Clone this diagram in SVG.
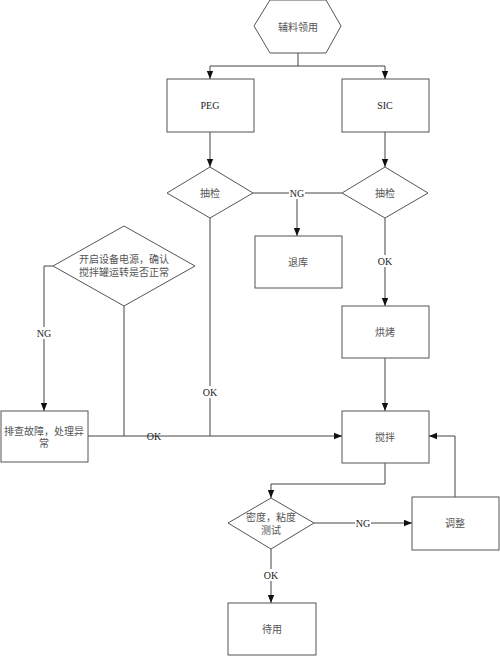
<svg xmlns="http://www.w3.org/2000/svg" width="500" height="656" viewBox="0 0 500 656">
<style>
.s{fill:#fff;stroke:#555;stroke-width:1}
.c{fill:none;stroke:#444;stroke-width:1}
.t{font-family:"Liberation Serif","Noto Sans CJK SC",serif;font-size:10px;fill:#555;text-anchor:middle;dominant-baseline:central}
.l{font-family:"Liberation Serif","Noto Sans CJK SC",serif;font-size:10px;fill:#222;text-anchor:middle;dominant-baseline:central}
.lb{fill:#fff}
</style>
<defs>
<marker id="a" viewBox="0 0 10 10" refX="10" refY="5" markerWidth="8" markerHeight="8" markerUnits="userSpaceOnUse" orient="auto">
<path d="M0,1 L10,5 L0,9 z" fill="#111"/>
</marker>
</defs>
<rect width="500" height="656" fill="#fff"/>
<g id="connectors">
<path class="c" d="M298,53 V66 M210,66 H385"/>
<path class="c" d="M210,66 V79" marker-end="url(#a)"/>
<path class="c" d="M385,66 V79" marker-end="url(#a)"/>
<path class="c" d="M210,132 V167" marker-end="url(#a)"/>
<path class="c" d="M385,132 V167" marker-end="url(#a)"/>
<path class="c" d="M253,193 H342"/>
<path class="c" d="M297,193 V236" marker-end="url(#a)"/>
<path class="c" d="M385,218 V306" marker-end="url(#a)"/>
<path class="c" d="M385,358 V411" marker-end="url(#a)"/>
<path class="c" d="M210,218 V436"/>
<path class="c" d="M124,306 V436"/>
<path class="c" d="M88,436 H342" marker-end="url(#a)"/>
<path class="c" d="M53,266 H44 V411" marker-end="url(#a)"/>
<path class="c" d="M385,463 V484 H271 V498" marker-end="url(#a)"/>
<path class="c" d="M314,523 H412" marker-end="url(#a)"/>
<path class="c" d="M455,497 V436 H429" marker-end="url(#a)"/>
<path class="c" d="M271,549 V603" marker-end="url(#a)"/>
<rect class="lb" x="289" y="187" width="16" height="12"/>
<text class="l" x="297" y="193">NG</text>
<rect class="lb" x="377" y="255" width="16" height="12"/>
<text class="l" x="385" y="261">OK</text>
<rect class="lb" x="202" y="386" width="16" height="12"/>
<text class="l" x="210" y="392">OK</text>
<rect class="lb" x="36" y="327" width="16" height="12"/>
<text class="l" x="44" y="333">NG</text>
<text class="l" x="154" y="436">OK</text>
<rect class="lb" x="355" y="517" width="16" height="12"/>
<text class="l" x="363" y="523">NG</text>
<rect class="lb" x="263" y="569" width="16" height="12"/>
<text class="l" x="271" y="575">OK</text>
</g>
<g id="start">
<polygon class="s" points="270,0 326,0 341,26 326,53 270,53 254,26"/>
<text class="t" x="298" y="27">辅料领用</text>
</g>
<g id="peg">
<rect class="s" x="167" y="79" width="87" height="53"/>
<text class="l" x="210" y="105">PEG</text>
</g>
<g id="sic">
<rect class="s" x="342" y="79" width="87" height="53"/>
<text class="l" x="385" y="105">SIC</text>
</g>
<g id="check1">
<polygon class="s" points="210,167 253,193 210,218 167,193"/>
<text class="t" x="210" y="193">抽检</text>
</g>
<g id="check2">
<polygon class="s" points="385,167 428,193 385,218 342,193"/>
<text class="t" x="385" y="193">抽检</text>
</g>
<g id="return">
<rect class="s" x="255" y="236" width="87" height="52"/>
<text class="t" x="298" y="262">退库</text>
</g>
<g id="bake">
<rect class="s" x="342" y="306" width="87" height="52"/>
<text class="t" x="385" y="332">烘烤</text>
</g>
<g id="power">
<polygon class="s" points="124,226 195,266 124,306 53,266"/>
<text class="t" x="124" y="259">开启设备电源，确认</text>
<text class="t" x="124" y="272">搅拌罐运转是否正常</text>
</g>
<g id="fault">
<rect class="s" x="1" y="411" width="87" height="51"/>
<text class="t" x="44" y="431">排查故障，处理异</text>
<text class="t" x="44" y="443">常</text>
</g>
<g id="mix">
<rect class="s" x="342" y="411" width="87" height="52"/>
<text class="t" x="385" y="437">搅拌</text>
</g>
<g id="test">
<polygon class="s" points="271,498 314,523 271,549 228,523"/>
<text class="t" x="271" y="517">密度，粘度</text>
<text class="t" x="271" y="530">测试</text>
</g>
<g id="adjust">
<rect class="s" x="412" y="497" width="87" height="53"/>
<text class="t" x="455" y="523">调整</text>
</g>
<g id="ready">
<rect class="s" x="228" y="603" width="88" height="52"/>
<text class="t" x="272" y="629">待用</text>
</g>
</svg>
